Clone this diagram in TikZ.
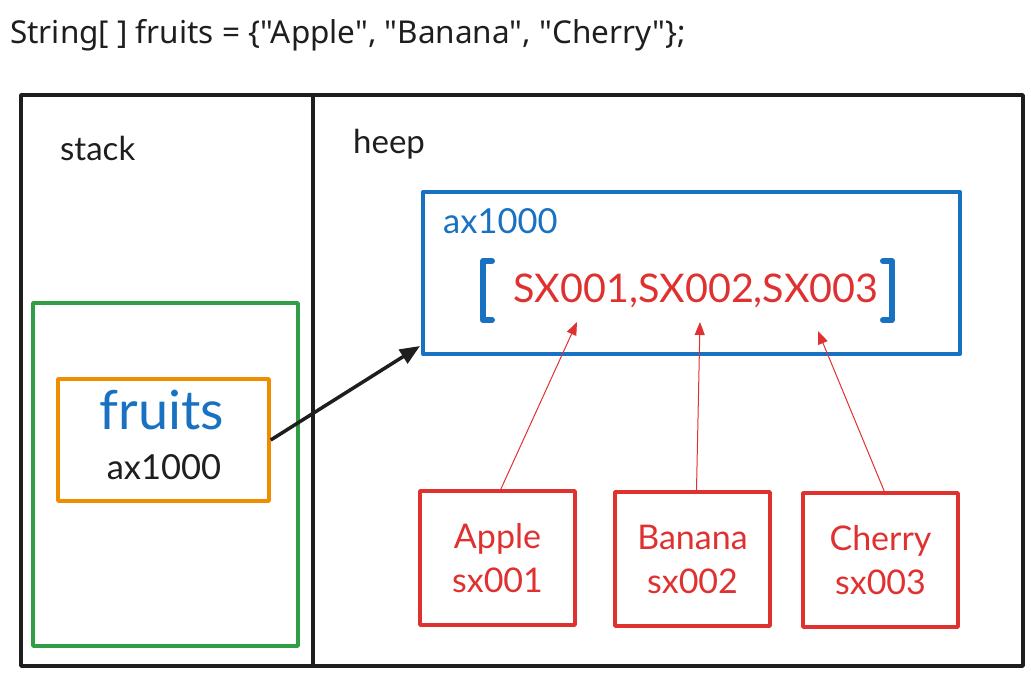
\documentclass[tikz,border=0pt]{standalone}
\usepackage{fontspec}
\setmainfont{Lato}
\newfontfamily\codefont{Noto Sans}
\usetikzlibrary{arrows.meta}
\definecolor{exblack}{HTML}{1E1E1E}
\definecolor{exblue}{HTML}{1971C2}
\definecolor{exgreen}{HTML}{2F9E44}
\definecolor{exorange}{HTML}{F08C00}
\definecolor{exred}{HTML}{E03131}
\newcommand{\fs}[2]{\fontsize{#1}{#2}\selectfont}
\begin{document}
\begin{tikzpicture}[x=1pt, y=-1pt, line join=round,
  area/.style={draw=exblack, line width=3.5pt, rectangle, inner sep=0pt},
  cell/.style={rectangle, line width=3.5pt, inner sep=0pt},
  strobj/.style={cell, draw=exred, minimum width=155, minimum height=134, align=center, text=exred, node font=\fs{34}{44}},
  word/.style={inner sep=0pt, text=exred},
  ptr/.style={exred, line width=1pt, -{Triangle[length=13pt, width=10pt]}},
  bracket/.style={exblue, line width=6pt, line cap=round}]
\useasboundingbox (0,0) rectangle (1031,676);
\node[anchor=west, inner sep=0pt, text=exblack] (decl) at (10,35) {\codefont\fs{31.5}{38}String[ ] fruits = \{"Apple", "Banana", "Cherry"\};};
% memory areas
\node[area, minimum width=292, minimum height=571] (stack) at (167,380.5){};
\node[area, minimum width=710, minimum height=571] (heep) at (668,380.5){};
\node[anchor=west, inner sep=0pt, text=exblack] (stacklbl) at (60,148) {\fs{33}{40}stack};
\node[anchor=west, inner sep=0pt, text=exblack] (heeplbl) at (353,144) {\fs{33}{40}heep};
% stack frame
\node[cell, draw=exgreen, minimum width=265, minimum height=343] (frame) at (165.5,474.5){};
\node[cell, draw=exorange, minimum width=211, minimum height=122] (var) at (163.5,440){};
\node[inner sep=0pt, text=exblue] (varname) at (162,410) {\fs{54}{64}fruits};
\node[inner sep=0pt, text=exblack] (varval) at (164,467) {\fs{34.5}{42}ax1000};
% array object
\node[cell, draw=exblue, line width=4pt, minimum width=537, minimum height=162] (arr) at (691.5,273){};
\node[anchor=west, inner sep=0pt, text=exblue] (arraddr) at (443,221) {\fs{34.5}{42}ax1000};
\node[word] (elems) at (696,291) {\fs{39.5}{48}SX001,SX002,SX003};
\draw[bracket] (492,261) -- (483,261) -- (483,320) -- (492,320);
\draw[bracket] (883,261) -- (892,261) -- (892,320) -- (883,320);
\coordinate (e1) at (577,322);
\coordinate (e2) at (700,322);
\coordinate (e3) at (818,331);
% string objects
\node[strobj] (apple) at (497.5,558) {Apple\\sx001};
\node[strobj] (banana) at (692.5,559) {Banana\\sx002};
\node[strobj] (cherry) at (880.5,560) {Cherry\\sx003};
\draw[ptr] (500,491) -- (e1);
\draw[ptr] (banana.north) ++(4,0) -- (e2);
\draw[ptr] (885,493) -- (e3);
% reference
\coordinate (arrin) at (420,346);
\draw[exblack, line width=3.5pt, -{Triangle[length=20pt, width=16pt]}] (var.east) -- (arrin);
\end{tikzpicture}
\end{document}
